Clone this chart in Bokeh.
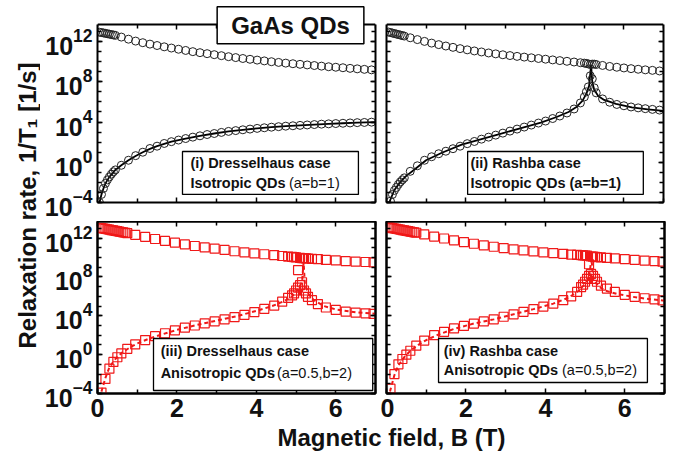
import numpy as np
from bokeh.plotting import figure
from bokeh.layouts import row, column
from bokeh.models import (LogAxis, LinearAxis, FixedTicker, Range1d, Label,
                          BoxAnnotation, CustomJSTickFormatter)
from bokeh.embed import file_html
from bokeh.resources import INLINE

# ---------------- data (log10 of relaxation rate) ----------------
B_i = [0.05, 0.1, 0.15, 0.2, 0.25, 0.3, 0.35, 0.4, 0.45, 0.6, 0.78, 0.96, 1.14, 1.32, 1.5,
       1.68, 1.86, 2.04, 2.22, 2.4, 2.58, 2.76, 2.94, 3.12, 3.3, 3.48, 3.66, 3.84, 4.02,
       4.2, 4.38, 4.56, 4.74, 4.92, 5.1, 5.28, 5.46, 5.64, 5.82, 6.0, 6.18, 6.36, 6.54,
       6.72, 6.9]
up_i = [12.93, 12.9, 12.86, 12.82, 12.78, 12.74, 12.7, 12.66, 12.62, 12.45, 12.24, 12.05,
        11.89, 11.75, 11.61, 11.48, 11.36, 11.24, 11.12, 11.0, 10.9, 10.8, 10.7, 10.6, 10.5,
        10.41, 10.32, 10.24, 10.16, 10.08, 10.0, 9.93, 9.86, 9.8, 9.74, 9.68, 9.62, 9.56,
        9.5, 9.45, 9.4, 9.34, 9.29, 9.24, 9.19]
lo_i = [-4.0, -3.2, -2.6, -2.1, -1.75, -1.45, -1.18, -0.95, -0.76, -0.3, 0.2, 0.66, 1.0,
        1.37, 1.6, 1.87, 2.05, 2.21, 2.36, 2.5, 2.63, 2.76, 2.86, 2.97, 3.07, 3.15, 3.23,
        3.3, 3.37, 3.43, 3.49, 3.54, 3.59, 3.63, 3.67, 3.71, 3.75, 3.79, 3.82, 3.85, 3.88,
        3.91, 3.94, 3.96, 3.99]
line_B_i = [0.03, 0.05, 0.1, 0.15, 0.2, 0.3, 0.45, 0.6, 0.78, 0.96, 1.14, 1.32, 1.5, 1.86,
            2.22, 2.58, 2.94, 3.3, 3.66, 4.02, 4.38, 4.74, 5.1, 5.46, 5.82, 6.18, 6.54, 7.0]
line_i = [-4.6, -4.0, -3.2, -2.6, -2.1, -1.45, -0.76, -0.3, 0.2, 0.62, 1.0, 1.33, 1.6, 2.05,
          2.36, 2.63, 2.86, 3.07, 3.23, 3.37, 3.49, 3.59, 3.67, 3.75, 3.82, 3.88, 3.94, 4.0]

B_ii = [0.05, 0.1, 0.15, 0.2, 0.25, 0.3, 0.35, 0.4, 0.45, 0.6, 0.78, 0.96, 1.14, 1.32, 1.5,
        1.68, 1.86, 2.04, 2.22, 2.4, 2.58, 2.76, 2.94, 3.12, 3.3, 3.48, 3.66, 3.84, 4.02,
        4.2, 4.38, 4.56, 4.74, 4.9, 5.0, 5.05, 5.1, 5.15, 5.2, 5.25, 5.3, 5.46, 5.64, 5.82,
        6.0, 6.18, 6.36, 6.54, 6.72, 6.9]
up_ii = [12.95, 12.9, 12.85, 12.8, 12.75, 12.7, 12.65, 12.6, 12.55, 12.38, 12.2, 12.02,
         11.85, 11.7, 11.56, 11.43, 11.3, 11.18, 11.07, 10.97, 10.87, 10.78, 10.69, 10.61,
         10.53, 10.46, 10.39, 10.32, 10.25, 10.18, 10.11, 10.04, 9.97, 9.9, 9.86, 9.83,
         9.78, 9.72, 9.76, 9.76, 9.72, 9.63, 9.53, 9.45, 9.38, 9.31, 9.25, 9.19, 9.14, 9.08]
lo_ii = [-4.3, -3.87, -3.2, -2.8, -2.5, -2.2, -1.95, -1.75, -1.55, -0.9, -0.35, 0.2, 0.55,
         0.85, 1.1, 1.35, 1.6, 1.85, 2.07, 2.3, 2.5, 2.7, 2.9, 3.1, 3.3, 3.5, 3.7, 3.9, 4.1,
         4.35, 4.6, 4.9, 5.3, 5.9, 6.5, 7.0, 7.5, 8.6, 8.3, 7.4, 6.9, 6.3, 5.97, 5.75, 5.62,
         5.5, 5.41, 5.33, 5.26, 5.19]
line_B_ii = [0.03, 0.1, 0.2, 0.35, 0.5, 0.7, 1.0, 1.4, 1.9, 2.4, 2.9, 3.4, 3.9, 4.3, 4.6,
             4.8, 4.95, 5.05, 5.12, 5.17, 5.2, 5.25, 5.35, 5.5, 5.8, 6.2, 6.6, 7.0]
line_ii = [-4.5, -3.7, -2.75, -1.95, -1.35, -0.75, 0.2, 0.95, 1.75, 2.3, 2.85, 3.4, 3.95,
           4.5, 5.0, 5.5, 6.1, 6.8, 7.6, 9.7, 8.0, 7.2, 6.6, 6.2, 5.8, 5.45, 5.25, 5.12]

B_an = [0.05, 0.1, 0.15, 0.2, 0.25, 0.3, 0.35, 0.4, 0.45, 0.5, 0.55, 0.6, 0.65, 0.7, 0.75,
        0.95, 1.2, 1.45, 1.7, 1.95, 2.2, 2.45, 2.7, 2.95, 3.2, 3.45, 3.7, 3.95, 4.2, 4.45,
        4.65, 4.8, 4.9, 4.95, 5.0, 5.05, 5.1, 5.15, 5.2, 5.25, 5.3, 5.4, 5.55, 5.75, 6.0,
        6.25, 6.5, 6.75, 6.95]
B_an_lo = [0.1, 0.2, 0.3, 0.4, 0.5, 0.6, 0.75, 0.95, 1.2, 1.45, 1.7, 1.95, 2.2, 2.45, 2.7,
           2.95, 3.2, 3.45, 3.7, 3.95, 4.2, 4.45, 4.65, 4.8, 4.9, 4.95, 5.0, 5.05, 5.1, 5.15,
           5.2, 5.25, 5.3, 5.4, 5.55, 5.75, 6.0, 6.25, 6.5, 6.75, 6.95]
up_iii = [13.05, 13.02, 12.98, 12.94, 12.9, 12.86, 12.82, 12.78, 12.74, 12.7, 12.66, 12.62,
          12.58, 12.54, 12.5, 12.33, 12.12, 11.9, 11.7, 11.52, 11.34, 11.18, 11.03, 10.9,
          10.77, 10.64, 10.53, 10.43, 10.33, 10.23, 10.15, 10.09, 10.05, 10.03, 10.0, 8.7,
          9.95, 9.93, 9.92, 9.9, 9.89, 9.86, 9.82, 9.76, 9.69, 9.62, 9.57, 9.53, 9.5]
lo_iii = [-3.9, -2.5, -1.45, -0.75, -0.27, 0.12, 0.6, 1.05, 1.5, 1.9, 2.2, 2.5, 2.77, 3.0,
          3.22, 3.43, 3.63, 3.85, 4.1, 4.38, 4.7, 5.05, 5.45, 5.85, 6.1, 6.3, 6.6, 6.9,
          7.15, 7.45, 6.6, 6.3, 5.95, 5.6, 5.2, 4.85, 4.6, 4.42, 4.32, 4.25, 4.2]
line_B_iii = [0.05, 0.1, 0.2, 0.3, 0.45, 0.6, 0.8, 1.0, 1.3, 1.6, 2.0, 2.5, 3.0, 3.5, 4.0,
              4.4, 4.7, 4.9, 5.05, 5.15, 5.19, 5.22, 5.3, 5.45, 5.7, 6.0, 6.5, 7.0]
line_iii = [-4.5, -3.8, -2.4, -1.3, -0.45, 0.15, 0.7, 1.15, 1.65, 2.05, 2.55, 3.05, 3.5,
            3.95, 4.5, 5.0, 5.5, 6.0, 6.7, 7.5, 9.5, 7.4, 6.3, 5.6, 5.0, 4.65, 4.35, 4.2]

up_iv = [13.1, 13.06, 13.02, 12.98, 12.94, 12.9, 12.86, 12.82, 12.78, 12.74, 12.7, 12.66,
         12.62, 12.58, 12.54, 12.38, 12.15, 11.95, 11.76, 11.58, 11.41, 11.25, 11.1, 10.97,
         10.84, 10.72, 10.62, 10.53, 10.45, 10.37, 10.3, 10.26, 10.23, 10.21, 10.2, 10.18,
         9.3, 10.1, 10.08, 10.06, 10.04, 10.0, 9.96, 9.9, 9.82, 9.75, 9.68, 9.62, 9.57]
lo_iv = [-3.5, -2.0, -1.0, -0.45, 0.0, 0.4, 0.92, 1.45, 2.0, 2.35, 2.7, 2.95, 3.2, 3.42,
         3.63, 3.9, 4.15, 4.4, 4.68, 4.95, 5.25, 5.6, 6.0, 6.45, 6.95, 7.2, 7.5, 7.8, 8.1,
         8.3, 8.1, 7.8, 7.5, 7.1, 6.8, 6.45, 6.15, 5.95, 5.8, 5.68, 5.58]
line_B_iv = [0.05, 0.1, 0.2, 0.3, 0.45, 0.6, 0.8, 1.0, 1.3, 1.7, 2.2, 2.7, 3.2, 3.7, 4.2,
             4.6, 4.85, 5.0, 5.1, 5.16, 5.2, 5.25, 5.35, 5.5, 5.8, 6.2, 6.6, 7.0]
line_iv = [-4.5, -3.6, -2.1, -1.1, -0.25, 0.4, 1.0, 1.5, 2.05, 2.65, 3.2, 3.63, 4.15, 4.68,
           5.25, 5.9, 6.6, 7.3, 7.9, 9.9, 8.0, 7.5, 7.0, 6.6, 6.25, 5.95, 5.72, 5.55]

x_major = [0, 2, 4, 6]
x_minor = [1, 3, 5, 7]
y_major_exp = [-4, 0, 4, 8, 12]
y_minor_exp = list(range(-4, 14))

title_text = "GaAs QDs"
xlabel_text = "Magnetic field, B (T)"
ylabel_text = "Relaxation rate, 1/T\u2081 [1/s]"

# ---------------- styling ----------------
FONT = "Liberation Sans"
RED = "#f01818"
LOG_TOP = 13.7
YMIN, YMAX = 1e-4, 10 ** LOG_TOP
LW = 2


def exp10(a):
    return [10.0 ** v for v in a]


def style_axis(ax, show, tick_len=5):
    ax.major_tick_in = tick_len
    ax.major_tick_out = 0
    ax.minor_tick_in = tick_len - 1
    ax.minor_tick_out = 0
    ax.axis_line_width = LW
    ax.axis_line_color = "black"
    ax.major_tick_line_width = 1.5
    ax.minor_tick_line_width = 1.5
    ax.major_tick_line_color = "black"
    ax.minor_tick_line_color = "black"
    ax.major_label_text_font = FONT
    ax.major_label_text_font_style = "bold"
    ax.major_label_text_color = "#111111"
    ax.major_label_text_font_size = "25px"
    if show:
        ax.major_label_standoff = 5
    else:
        ax.formatter = CustomJSTickFormatter(code="return ''")
        ax.major_label_standoff = 0


def make_panel(fw, fh, bl, br, bt, bb, show_y, show_x, ext=0):
    # ext: extra pixels of plotting area above the visible box (room for the title box)
    ppd = fh / (LOG_TOP + 4)
    ytop = 10 ** (LOG_TOP + ext / ppd)
    p = figure(frame_width=fw, frame_height=fh + ext, x_range=Range1d(0, 7),
               y_range=Range1d(YMIN, ytop), y_axis_type="log",
               output_backend="svg", toolbar_location=None,
               min_border_left=bl, min_border_right=br,
               min_border_top=bt, min_border_bottom=bb,
               background_fill_color="white", border_fill_color="white")
    p.grid.visible = False
    yt = FixedTicker(ticks=exp10(y_major_exp), minor_ticks=exp10(y_minor_exp))
    xt = FixedTicker(ticks=x_major, minor_ticks=x_minor)
    p.yaxis[0].ticker = yt
    p.xaxis[0].ticker = xt
    style_axis(p.yaxis[0], show_y)
    style_axis(p.xaxis[0], show_x)
    ra = LogAxis(ticker=yt)
    style_axis(ra, False)
    p.add_layout(ra, "right")
    if ext:
        p.outline_line_color = None
        p.yaxis[0].bounds = (YMIN, YMAX)
        ra.bounds = (YMIN, YMAX)
        ta = LinearAxis(ticker=xt, fixed_location=YMAX)
    else:
        p.outline_line_color = "black"
        p.outline_line_width = LW
        ta = LinearAxis(ticker=xt)
    style_axis(ta, False)
    p.add_layout(ta, "above")
    return p


def add_box(p, left, right, bottom, top):
    p.add_layout(BoxAnnotation(left=left, right=right, bottom=10 ** bottom, top=10 ** top,
                               fill_color="white", fill_alpha=1.0,
                               line_color="black", line_alpha=1.0, line_width=1.3,
                               level="annotation"))


def add_text(p, x, ylog, text, bold=True, size="14.5px"):
    p.add_layout(Label(x=x, y=10 ** ylog, text=text, text_font=FONT,
                       text_font_size=size,
                       text_font_style="bold" if bold else "normal",
                       text_color="#111111", text_align="left", text_baseline="middle",
                       level="annotation"))


# ---------------- panels ----------------
p1 = make_panel(278, 178, 57, 5, 0, 19, True, False, ext=24)
p2 = make_panel(277, 178, 6, 11, 0, 19, False, False, ext=24)
p3 = make_panel(278, 172, 57, 5, 0, 30, True, True)
p4 = make_panel(278, 172, 6, 10, 0, 30, False, True)

# (i) Dresselhaus isotropic
p1.line(line_B_i, exp10(line_i), line_color="black", line_width=1.8)
p1.scatter(B_i, exp10(up_i), marker="circle", size=8, fill_color=None,
           line_color="#222222", line_width=1)
p1.scatter(B_i, exp10(lo_i), marker="circle", size=8, fill_color=None,
           line_color="#222222", line_width=1)

# (ii) Rashba isotropic
p2.line(line_B_ii, exp10(line_ii), line_color="black", line_width=1.8)
p2.scatter(B_ii, exp10(up_ii), marker="circle", size=8, fill_color=None,
           line_color="#222222", line_width=1)
p2.scatter(B_ii, exp10(lo_ii), marker="circle", size=8, fill_color=None,
           line_color="#222222", line_width=1)

# (iii) Dresselhaus anisotropic
p3.line(line_B_iii, exp10(line_iii), line_color=RED, line_width=2, line_dash="4 3")
p3.scatter(B_an, exp10(up_iii), marker="square", size=9, fill_color=None,
           line_color=RED, line_width=1.2)
p3.scatter(B_an_lo, exp10(lo_iii), marker="square", size=9, fill_color=None,
           line_color=RED, line_width=1.2)

# (iv) Rashba anisotropic
p4.line(line_B_iv, exp10(line_iv), line_color=RED, line_width=2, line_dash="4 3")
p4.scatter(B_an, exp10(up_iv), marker="square", size=9, fill_color=None,
           line_color=RED, line_width=1.2)
p4.scatter(B_an_lo, exp10(lo_iv), marker="square", size=9, fill_color=None,
           line_color=RED, line_width=1.2)

# title box
p1.add_layout(Label(x=4.86, y=10 ** 13.62, text=title_text, text_font=FONT,
                    text_font_size="24px", text_font_style="bold", text_color="#111111",
                    text_align="center", text_baseline="middle",
                    background_fill_color="white", border_line_color="black",
                    border_line_width=1.5, padding=(14, 5), level="annotation"))

# info boxes
add_box(p1, 2.14, 6.57, -3.2, 1.07)
add_text(p1, 2.34, -0.12, "(i) Dresselhaus case")
add_text(p1, 2.34, -2.11, "Isotropic QDs")
add_text(p1, 4.82, -2.11, "(a=b=1)", bold=False)

add_box(p2, 2.05, 6.49, -3.2, 1.07)
add_text(p2, 2.12, -0.12, "(ii) Rashba case")
add_text(p2, 2.12, -2.11, "Isotropic QDs (a=b=1)")

add_box(p3, 1.41, 6.93, -3.69, 1.66)
add_text(p3, 1.59, 0.42, "(iii) Dresselhaus case")
add_text(p3, 1.59, -1.94, "Anisotropic QDs")
add_text(p3, 4.52, -1.94, "(a=0.5,b=2)", bold=False)

add_box(p4, 1.31, 6.57, -2.87, 1.66)
add_text(p4, 1.44, 0.42, "(iv) Rashba case")
add_text(p4, 1.44, -1.63, "Anisotropic QDs")
add_text(p4, 4.42, -1.63, "(a=0.5,b=2)", bold=False)

# ---------------- axis-title figures ----------------
ylab = figure(width=40, height=455, x_range=Range1d(0, 40), y_range=Range1d(0, 455),
              output_backend="svg", toolbar_location=None, min_border=0,
              outline_line_color=None)
ylab.axis.visible = False
ylab.grid.visible = False
ylab.text(x=[27], y=[250], text=[ylabel_text], angle=np.pi / 2, text_align="center",
          text_baseline="middle", text_font_size="24px", text_font_style="bold",
          text_color="#111111", text_font={"value": FONT})

xl_h = 455 - (24 + 178 + 19) - (0 + 172 + 30)
xlab = figure(width=634, height=xl_h, x_range=Range1d(40, 674),
              y_range=Range1d(455, 455 - xl_h),
              output_backend="svg", toolbar_location=None, min_border=0,
              outline_line_color=None)
xlab.axis.visible = False
xlab.grid.visible = False
xlab.text(x=[391], y=[437], text=[xlabel_text], text_align="center",
          text_baseline="middle", text_font_size="24px", text_font_style="bold",
          text_color="#111111", text_font={"value": FONT})

layout = row(ylab, column(row(p1, p2), row(p3, p4), xlab))

open("out.html", "w").write(file_html(layout, INLINE))
